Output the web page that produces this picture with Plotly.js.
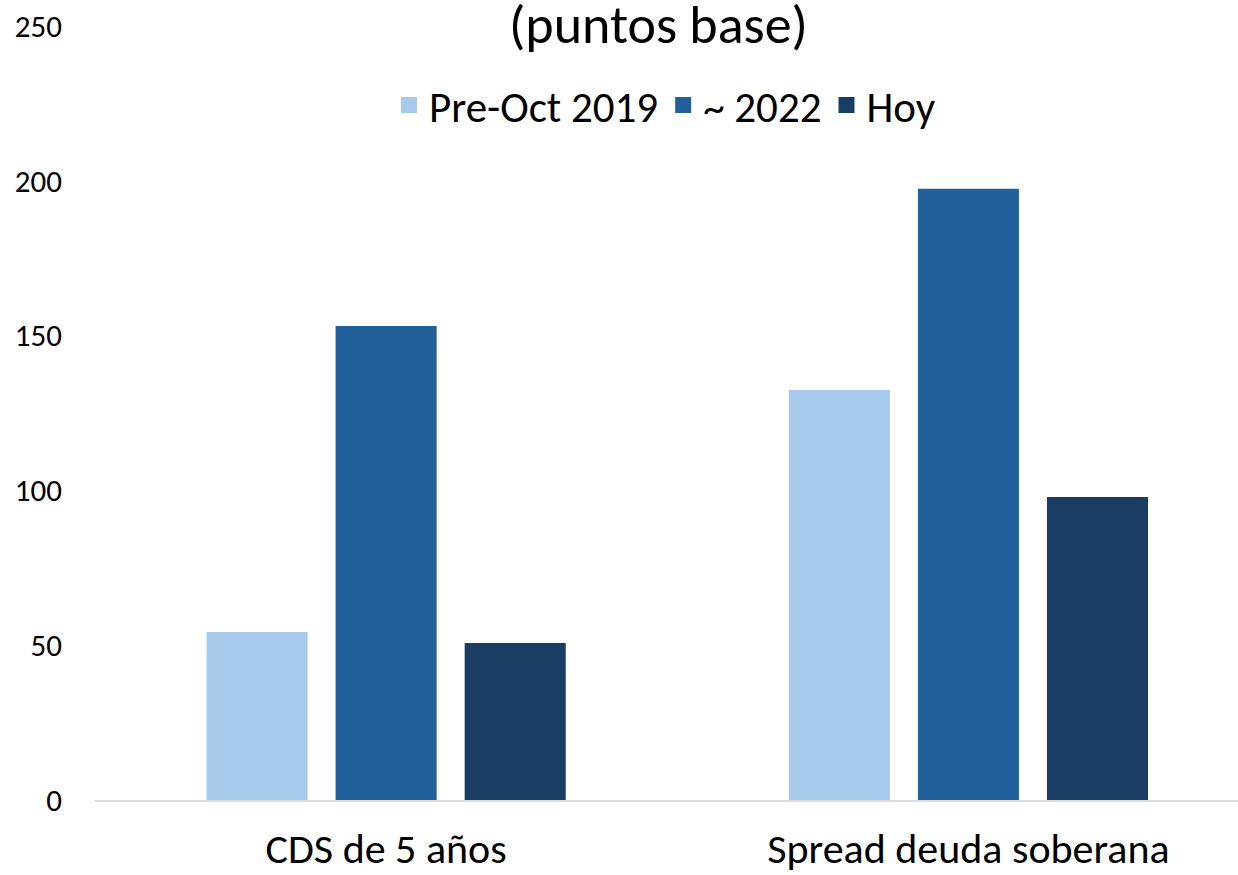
<!DOCTYPE html>
<html>
<head>
<meta charset="utf-8">
<script src="https://cdn.plot.ly/plotly-3.0.1.min.js"></script>
<style>html,body{margin:0;padding:0;overflow:hidden;background:#fff}</style>
</head>
<body>
<div id="chart" style="width:1238px;height:875px"></div>
<script>
const categories = ["CDS de 5 años", "Spread deuda soberana"];
const seriesNames = ["Pre-Oct 2019", "~ 2022", "Hoy"];
const preOct2019 = [54.3, 132.4];
const y2022 = [153.1, 197.4];
const hoy = [50.7, 97.9];
const colors = ["#A7CAEC", "#22609C", "#1A3D64"];
const yTicks = [0, 50, 100, 150, 200, 250];

const FONT = "Carlito, Calibri, Lato, sans-serif";
const values = [preOct2019, y2022, hoy];
const bars = values.map((v, i) => ({
  type: "bar", x: categories, y: v, name: seriesNames[i],
  marker: {color: colors[i]}, hoverinfo: "none", showlegend: false,
  legendgroup: "g" + i
}));
// legend-only entries (bigger square symbols, like the reference)
const legendEntries = seriesNames.map((n, i) => ({
  type: "scatter", mode: "markers", x: [null], y: [null], name: n,
  marker: {symbol: "square", size: 22, color: colors[i]},
  hoverinfo: "none", showlegend: true, legendgroup: "g" + i
}));

const layout = {
  width: 1238, height: 875,
  margin: {l: 95, r: 0, t: 26, b: 75, pad: 0},
  paper_bgcolor: "#fff", plot_bgcolor: "#fff",
  font: {family: FONT, color: "#000"},
  barmode: "group", bargap: 0.335, bargroupgap: 0.217,
  xaxis: {
    type: "category", range: [-0.5, 1.463],
    categoryorder: "array", categoryarray: categories,
    showline: true, linecolor: "#D9D9D9", linewidth: 2,
    showgrid: false, zeroline: false, ticks: "",
    tickfont: {size: 42, family: FONT, color: "#000"},
    ticklabelstandoff: 11
  },
  yaxis: {
    range: [0, 250], tickvals: yTicks, ticktext: yTicks.map(String),
    showgrid: false, zeroline: false, showline: false, ticks: "",
    tickfont: {size: 31, family: FONT, color: "#000"},
    ticklabelstandoff: 32
  },
  showlegend: true,
  legend: {
    orientation: "h", x: 0.4987, xanchor: "center", y: 0.898, yanchor: "middle",
    font: {size: 43, family: FONT, color: "#000"},
    itemwidth: 30, itemsizing: "trace", traceorder: "normal", bgcolor: "rgba(0,0,0,0)"
  },
  annotations: [{
    text: "(puntos base)", xref: "paper", yref: "paper",
    x: 0.4934, y: 1.0013, xanchor: "center", yanchor: "middle",
    showarrow: false, font: {size: 54, family: FONT, color: "#000"}
  }]
};

Plotly.newPlot("chart", bars.concat(legendEntries), layout, {displayModeBar: false, staticPlot: true});
</script>
</body>
</html>
